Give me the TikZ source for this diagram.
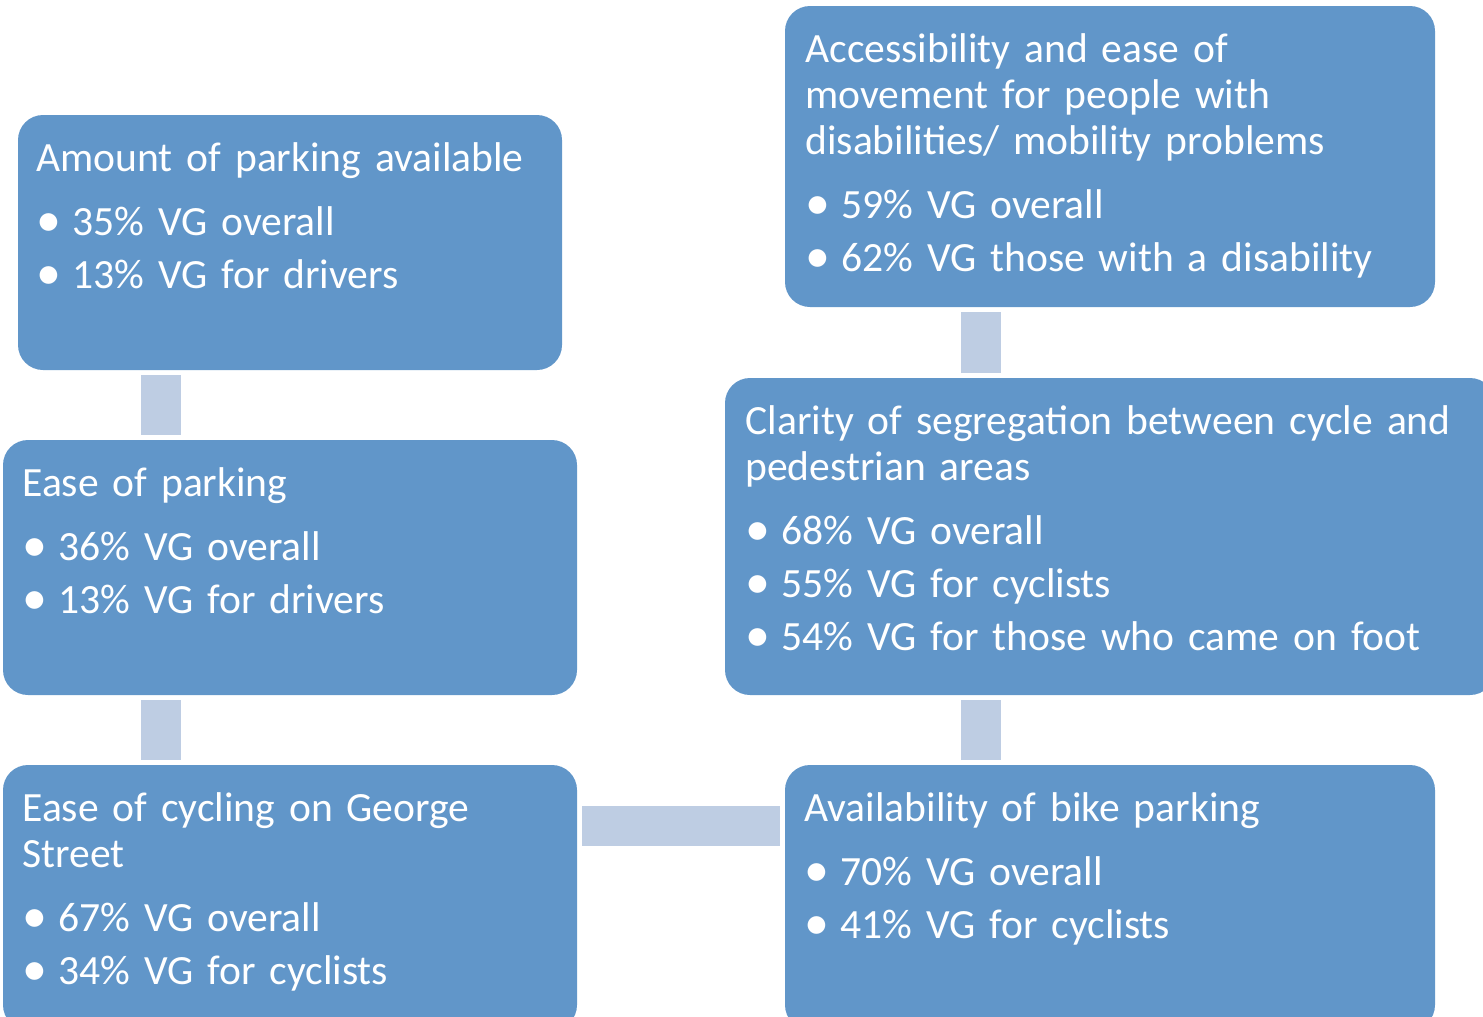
\documentclass[tikz,border=0pt]{standalone}
\usepackage{fontspec}
\setmainfont[WordSpace=0.92]{Carlito}

\definecolor{boxblue}{HTML}{6196C9}
\definecolor{linkblue}{HTML}{BECDE3}

\newcommand{\vg}[1]{\makebox[18pt][l]{\hspace{0pt}\raisebox{-0.8pt}{\scalebox{1.2}{\textbullet}}}#1}

\begin{document}
\begin{tikzpicture}[x=0.5pt, y=-0.5pt,
		box/.style={fill=boxblue, rounded corners=12.5pt, anchor=north west, inner sep=0pt, outer sep=0pt},
		txt/.style={white, anchor=base west, text width=380pt, align=left, inner sep=0pt, font=\fontsize{20.8}{23}\selectfont},
		link/.style={linkblue, line width=20pt}]
		\useasboundingbox (0,0) rectangle (1483,1017);
		
		\node[box, minimum width=272pt, minimum height=127.5pt] (amount) at (18,115) {};
		\node[box, minimum width=287pt, minimum height=127.5pt] (easepark) at (3,440) {};
		\node[box, minimum width=287pt, minimum height=132.5pt] (cycling) at (3,765) {};
		\node[box, minimum width=325pt, minimum height=132.5pt] (bikepark) at (785,765) {};
		\node[box, minimum width=385pt, minimum height=158.5pt] (segreg) at (725,378) {};
		\node[box, minimum width=325pt, minimum height=150.5pt] (access) at (785,6) {};
		
		\node[txt] (amount-t) at ([shift={(18,56)}]amount.north west) {Amount of parking available\\[9pt]\vg{35\% VG overall}\\[3.5pt]\vg{13\% VG for drivers}};
		\node[txt] (easepark-t) at ([shift={(19,56)}]easepark.north west) {Ease of parking\\[9pt]\vg{36\% VG overall}\\[3.5pt]\vg{13\% VG for drivers}};
		\node[txt] (cycling-t) at ([shift={(19,56)}]cycling.north west) {Ease of cycling on George\\Street\\[9pt]\vg{67\% VG overall}\\[3.5pt]\vg{34\% VG for cyclists}};
		\node[txt] (bikepark-t) at ([shift={(19,56)}]bikepark.north west) {Availability of bike parking\\[9pt]\vg{70\% VG overall}\\[3.5pt]\vg{41\% VG for cyclists}};
		\node[txt] (segreg-t) at ([shift={(20,56)}]segreg.north west) {Clarity of segregation between cycle and\\pedestrian areas\\[9pt]\vg{68\% VG overall}\\[3.5pt]\vg{55\% VG for cyclists}\\[3.5pt]\vg{54\% VG for those who came on foot}};
		\node[txt] (access-t) at ([shift={(20,56)}]access.north west) {Accessibility and ease of\\movement for people with\\disabilities/ mobility problems\\[9pt]\vg{59\% VG overall}\\[3.5pt]\vg{62\% VG those with a disability}};
		
		\draw[link] ([shift={(143,5)}]amount.south west) -- ([shift={(158,-5)}]easepark.north west);
		\draw[link] ([shift={(158,5)}]easepark.south west) -- ([shift={(158,-5)}]cycling.north west);
		\draw[link] ([shift={(5,61)}]cycling.north east) -- ([shift={(-5,61)}]bikepark.north west);
		\draw[link] ([shift={(196,-5)}]bikepark.north west) -- ([shift={(256,5)}]segreg.south west);
		\draw[link] ([shift={(256,-5)}]segreg.north west) -- ([shift={(196,5)}]access.south west);
	\end{tikzpicture}
\end{document}
